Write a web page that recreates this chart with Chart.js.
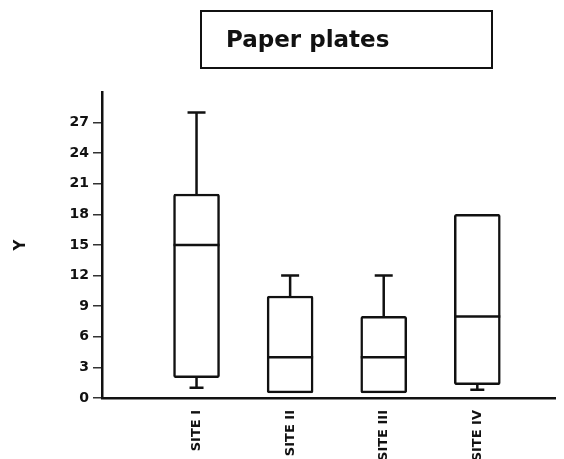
<!DOCTYPE html>
<html>
<head>
<meta charset="utf-8">
<script src="https://cdn.jsdelivr.net/npm/chart.js@4/dist/chart.umd.min.js"></script>
<style>
  html, body { margin: 0; padding: 0; background: #fff; }
  #wrap { position: relative; width: 564px; height: 459px; }
  #titulo {
    position: absolute; left: 200px; top: 10px; width: 289px; height: 55px;
    border: 2px solid #111; box-sizing: content-box;
    font-family: "DejaVu Sans", sans-serif; font-weight: bold; font-size: 23px;
    color: #111; line-height: 55px; text-indent: 24px;
  }
  canvas { position: absolute; left: 0; top: 0; }
</style>
</head>
<body>
<div id="wrap">
  <canvas id="grafico" width="564" height="459"></canvas>
  <div id="titulo">Paper plates</div>
</div>
<script>
// Dados
const sites = ['SITE I', 'SITE II', 'SITE III', 'SITE IV'];
const posicoes = [1, 2, 3, 4];
const minimo = [1, 0.5, 0.5, 0.8];
const q1 = [2, 0.5, 0.5, 1.3];
const mediana = [15, 4, 4, 8];
const q3 = [20, 10, 8, 18];
const maximo = [28, 12, 12, 18];
const yTicks = [0, 3, 6, 9, 12, 15, 18, 21, 24, 27];

// Desenha mediana e bigodes usando as escalas do Chart.js
const boxPlugin = {
    id: 'boxPlugin',
    afterDatasetsDraw(chart) {
        const ctx = chart.ctx;
        const y = chart.scales.y;
        const meta = chart.getDatasetMeta(0);
        ctx.save();
        ctx.strokeStyle = '#111';
        ctx.lineWidth = 2.5;
        meta.data.forEach((bar, i) => {
            const half = bar.width / 2;
            const cx = bar.x;
            // mediana
            ctx.beginPath();
            ctx.moveTo(cx - half, y.getPixelForValue(mediana[i]));
            ctx.lineTo(cx + half, y.getPixelForValue(mediana[i]));
            ctx.stroke();
            // bigode superior
            if (maximo[i] > q3[i]) {
                ctx.beginPath();
                ctx.moveTo(cx, y.getPixelForValue(q3[i]));
                ctx.lineTo(cx, y.getPixelForValue(maximo[i]));
                ctx.moveTo(cx - 9, y.getPixelForValue(maximo[i]));
                ctx.lineTo(cx + 9, y.getPixelForValue(maximo[i]));
                ctx.stroke();
            }
            // bigode inferior
            if (minimo[i] < q1[i]) {
                ctx.beginPath();
                ctx.moveTo(cx, y.getPixelForValue(q1[i]));
                ctx.lineTo(cx, y.getPixelForValue(minimo[i]));
                ctx.moveTo(cx - 7, y.getPixelForValue(minimo[i]));
                ctx.lineTo(cx + 7, y.getPixelForValue(minimo[i]));
                ctx.stroke();
            }
        });
        ctx.restore();
    }
};

const ctx = document.getElementById('grafico').getContext('2d');
new Chart(ctx, {
    type: 'bar',
    data: {
        datasets: [{
            data: posicoes.map((p, i) => ({ x: p, y: [q1[i], q3[i]] })),
            backgroundColor: '#fff',
            borderColor: '#111',
            borderWidth: 2.5,
            borderSkipped: false,
            borderRadius: 2,
            barThickness: 46
        }]
    },
    options: {
        responsive: false,
        animation: false,
        layout: { padding: { top: 92, right: 9, left: 0, bottom: 0 } },
        plugins: {
            legend: { display: false },
            tooltip: { enabled: false }
        },
        scales: {
            x: {
                type: 'linear',
                offset: false,
                min: -0.01,
                max: 4.83,
                afterBuildTicks: s => { s.ticks = posicoes.map(v => ({ value: v })); },
                afterFit: s => { s.height = 61; },
                ticks: {
                    autoSkip: false,
                    minRotation: 90,
                    maxRotation: 90,
                    padding: 4,
                    color: '#111',
                    font: { family: 'DejaVu Sans', weight: 'bold', size: 13 },
                    callback: v => sites[posicoes.indexOf(v)] || ''
                },
                grid: { display: false, offset: false },
                border: { color: '#111', width: 2.5 }
            },
            y: {
                min: 0,
                max: 30,
                afterBuildTicks: s => { s.ticks = yTicks.map(v => ({ value: v })); },
                afterFit: s => { s.width = 102; },
                ticks: {
                    padding: 4,
                    color: '#111',
                    font: { family: 'DejaVu Sans', weight: 'bold', size: 14 }
                },
                grid: { drawOnChartArea: false, drawTicks: true, tickLength: 9, color: '#333', lineWidth: 1.5 },
                border: { color: '#111', width: 2.5 },
                title: {
                    display: true,
                    text: 'Y',
                    color: '#111',
                    padding: { top: 12, bottom: 0 },
                    font: { family: 'DejaVu Sans', weight: 'bold', size: 15 }
                }
            }
        }
    },
    plugins: [boxPlugin]
});
</script>
</body>
</html>
